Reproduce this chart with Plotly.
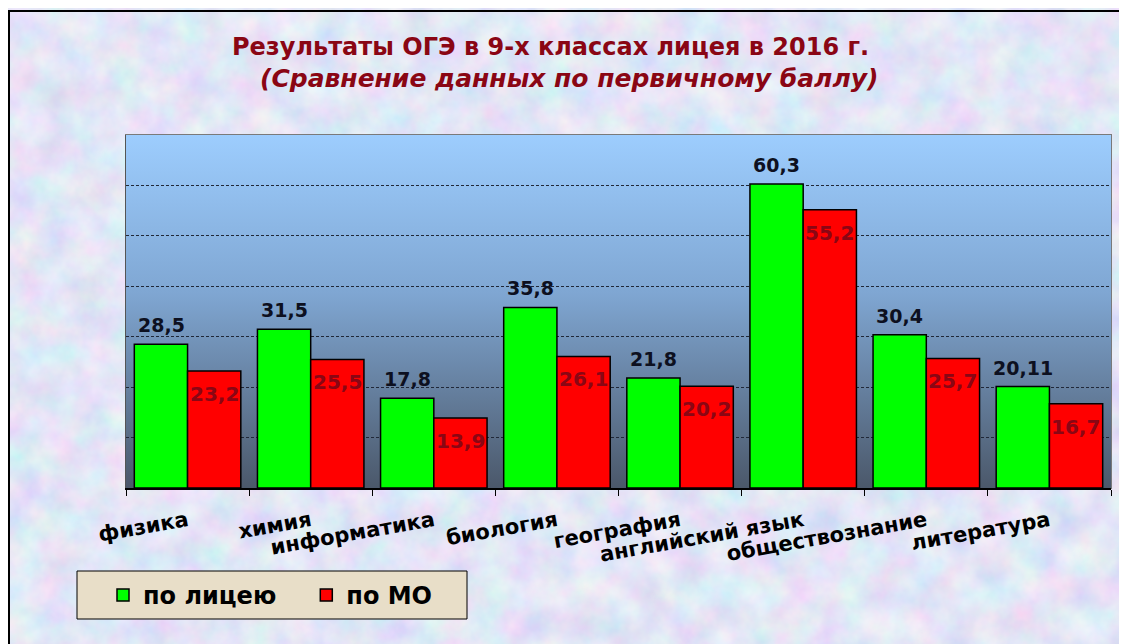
import base64
import plotly.graph_objects as go

subjects = ['физика', 'химия', 'информатика', 'биология', 'география',
            'английский язык', 'обществознание', 'литература']
lyceum = [28.5, 31.5, 17.8, 35.8, 21.8, 60.3, 30.4, 20.11]
region = [23.2, 25.5, 13.9, 26.1, 20.2, 55.2, 25.7, 16.7]
series_names = ['по лицею', 'по МО']

title_line1 = 'Результаты ОГЭ в 9-х классах лицея в 2016 г.'
title_line2 = '(Сравнение данных по первичному баллу)'

FONT = 'DejaVu Sans'
DARK_RED = '#8a0614'
W, H = 1127, 644
# the page puts the plot 8px in from the top-left corner, so the margins allow for it
ML, MR, MT, MB = 118, 24, 127, 164
PW, PH = W - ML - MR, H - MT - MB


def svg_uri(svg):
    return 'data:image/svg+xml;base64,' + base64.b64encode(svg.encode('utf-8')).decode('ascii')


def px(x, y):
    # figure pixel -> paper coords
    return (x - ML) / PW, (H - MB - y) / PH


# mottled pastel paper texture (svg noise filter, deterministic)
paper_svg = (
    '<svg xmlns="http://www.w3.org/2000/svg" width="1127" height="644">'
    '<filter id="n" x="0" y="0" width="100%" height="100%">'
    '<feTurbulence type="fractalNoise" baseFrequency="0.03" numOctaves="4" seed="7"/>'
    '<feColorMatrix type="matrix" values="0.45 0 0 0 0.54  0 0.36 0 0 0.61  0 0 0.16 0 0.84  0 0 0 0 1"/>'
    '</filter>'
    '<rect width="1127" height="644" fill="#ccd6ef"/>'
    '<rect width="1127" height="644" filter="url(#n)"/>'
    '</svg>'
)

# blue-to-slate gradient behind the bars
plot_svg = (
    '<svg xmlns="http://www.w3.org/2000/svg" width="100" height="100" preserveAspectRatio="none">'
    '<defs><linearGradient id="g" x1="0" y1="0" x2="0" y2="1">'
    '<stop offset="0" stop-color="#9dcdfe"/><stop offset="0.45" stop-color="#7fa6d2"/>'
    '<stop offset="1" stop-color="#4b586a"/></linearGradient></defs>'
    '<rect width="100" height="100" fill="url(#g)"/></svg>'
)

fig = go.Figure()
fig.add_trace(go.Bar(x=subjects, y=lyceum, name=series_names[0] + '\u00a0' * 3,
                     marker=dict(color='#00ff00', line=dict(color='black', width=1.5))))
fig.add_trace(go.Bar(x=subjects, y=region, name=series_names[1],
                     marker=dict(color='#ff0000', line=dict(color='black', width=1.5))))

annotations = []
for s, v in zip(subjects, lyceum):
    annotations.append(dict(x=s, y=v, xref='x', yref='y', text=str(v).replace('.', ','),
                            showarrow=False, xshift=-26.5, yshift=6, yanchor='bottom',
                            font=dict(family=FONT, size=19, color='#0d1020', weight='bold')))
for s, v in zip(subjects, region):
    annotations.append(dict(x=s, y=v, xref='x', yref='y', text=str(v).replace('.', ','),
                            showarrow=False, xshift=26.5, yshift=-9, yanchor='top',
                            font=dict(family=FONT, size=20, color=DARK_RED, weight='bold')))
annotations.append(dict(x=0.431, y=1.249, xref='paper', yref='paper', text='<b>' + title_line1 + '</b>',
                        showarrow=False, yanchor='middle',
                        font=dict(family=FONT, size=24, color=DARK_RED)))
annotations.append(dict(x=0.45, y=1.161, xref='paper', yref='paper', text='<b><i>' + title_line2 + '</i></b>',
                        showarrow=False, yanchor='middle',
                        font=dict(family=FONT, size=25, color=DARK_RED)))

leg_x0, leg_y0 = px(69, 611)
leg_x1, leg_y1 = px(459, 563)
frame_x0, frame_y1 = px(1, 3)
leg_pos_x, leg_pos_y = px(95, 565)

fig.update_layout(
    width=W, height=H,
    margin=dict(l=ML, r=MR, t=MT, b=MB),
    paper_bgcolor='#ccd6ef',
    plot_bgcolor='rgba(0,0,0,0)',
    barmode='group', bargap=0.135, bargroupgap=0,
    showlegend=True,
    legend=dict(orientation='h', x=leg_pos_x, y=leg_pos_y, xanchor='left', yanchor='top',
                bgcolor='rgba(0,0,0,0)', borderwidth=0,
                font=dict(family=FONT, size=24, color='black', weight='bold')),
    annotations=annotations,
    images=[
        dict(source=svg_uri(paper_svg), xref='paper', yref='paper',
             x=-ML / PW, y=1 + MT / PH, sizex=W / PW, sizey=H / PH,
             sizing='stretch', layer='below', xanchor='left', yanchor='top'),
        dict(source=svg_uri(plot_svg), xref='x domain', yref='y domain',
             x=0, y=1, sizex=1, sizey=1, sizing='stretch', layer='below',
             xanchor='left', yanchor='top'),
    ],
    shapes=[
        dict(type='rect', xref='x domain', yref='y domain', x0=0, x1=1, y0=0, y1=1,
             line=dict(color='#7a7a7a', width=2), layer='below'),
        dict(type='rect', xref='paper', yref='paper', x0=frame_x0, x1=1.2,
             y0=-0.6, y1=frame_y1,
             line=dict(color='black', width=2), layer='above'),
        # legend box
        dict(type='rect', xref='paper', yref='paper', x0=leg_x0, x1=leg_x1, y0=leg_y0, y1=leg_y1,
             fillcolor='#e8dec8', line=dict(color='black', width=1), layer='above'),
    ],
)
fig.update_xaxes(showline=True, linecolor='black', linewidth=1.5, ticks='outside', tickson='boundaries',
                 ticklen=6, tickcolor='black', tickangle=-10, ticklabelstandoff=11,
                 tickfont=dict(family=FONT, size=21, color='black', weight='bold'), showgrid=False)
fig.update_yaxes(range=[0, 70], dtick=10, showticklabels=False, showgrid=True,
                 gridcolor='#202838', griddash='3px,2px', gridwidth=1, zeroline=False,
                 showline=True, linecolor='#555555', linewidth=1)

fig.write_html("out.html")
